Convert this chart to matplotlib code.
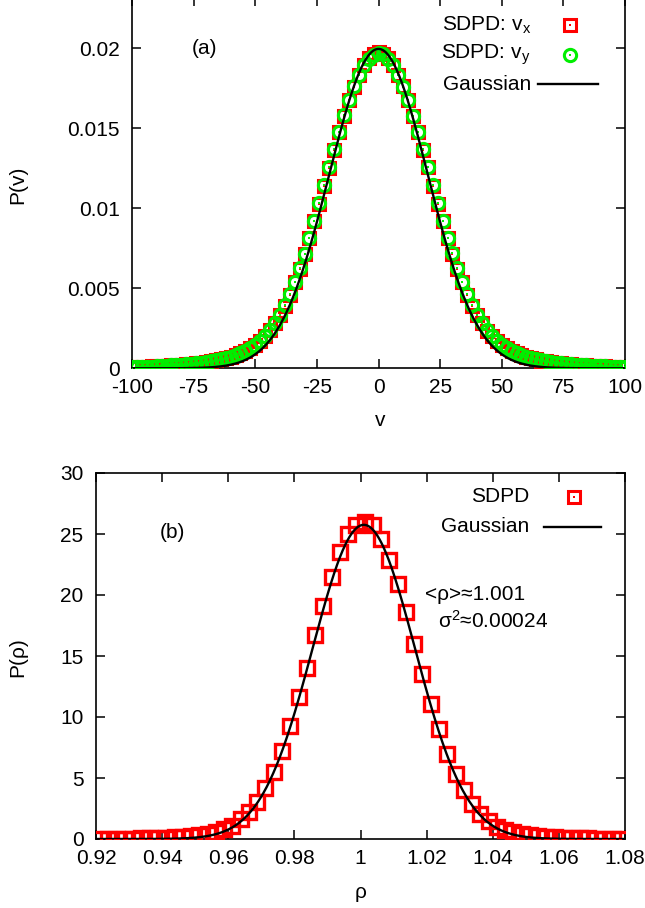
import numpy as np
import matplotlib
matplotlib.use("Agg")
import matplotlib.pyplot as plt

plt.rcParams['font.family'] = ['Liberation Sans', 'DejaVu Sans']
plt.rcParams['mathtext.fontset'] = 'custom'
plt.rcParams['mathtext.rm'] = 'Liberation Sans'
plt.rcParams['mathtext.it'] = 'Liberation Sans'

# ---------------- panel (a) data ----------------
v_start, v_stop, v_step = -100, 100, 2
vx = [0.00007, 0.00008, 0.00009, 0.00010, 0.00012, 0.00013, 0.00014, 0.00016, 0.00018, 0.00020,
      0.00022, 0.00025, 0.00027, 0.00030, 0.00034, 0.00038, 0.00043, 0.00049, 0.00055, 0.00062,
      0.00071, 0.00081, 0.00093, 0.00107, 0.00124, 0.00146, 0.00171, 0.00201, 0.00237, 0.00280,
      0.00331, 0.00391, 0.00459, 0.00536, 0.00621, 0.00713, 0.00812, 0.00917, 0.01027, 0.01139,
      0.01253, 0.01365, 0.01475, 0.01577, 0.01674, 0.01759, 0.01833, 0.01892, 0.01935, 0.01961,
      0.01974,
      0.01962, 0.01936, 0.01893, 0.01834, 0.01760, 0.01675, 0.01578, 0.01476, 0.01366, 0.01254,
      0.01140, 0.01028, 0.00918, 0.00813, 0.00714, 0.00622, 0.00537, 0.00460, 0.00392, 0.00332,
      0.00280, 0.00236, 0.00200, 0.00170, 0.00145, 0.00124, 0.00107, 0.00093, 0.00081, 0.00071,
      0.00062, 0.00055, 0.00048, 0.00043, 0.00038, 0.00034, 0.00030, 0.00027, 0.00024, 0.00022,
      0.00020, 0.00018, 0.00016, 0.00014, 0.00013, 0.00012, 0.00010, 0.00009, 0.00008, 0.00007]
vy = [0.00007, 0.00008, 0.00009, 0.00010, 0.00011, 0.00013, 0.00015, 0.00016, 0.00018, 0.00020,
      0.00023, 0.00025, 0.00028, 0.00031, 0.00034, 0.00039, 0.00044, 0.00049, 0.00056, 0.00063,
      0.00072, 0.00082, 0.00094, 0.00108, 0.00126, 0.00147, 0.00173, 0.00203, 0.00239, 0.00283,
      0.00334, 0.00394, 0.00462, 0.00539, 0.00624, 0.00716, 0.00815, 0.00920, 0.01030, 0.01142,
      0.01256, 0.01368, 0.01477, 0.01579, 0.01675, 0.01760, 0.01833, 0.01891, 0.01933, 0.01959,
      0.01972,
      0.01960, 0.01934, 0.01891, 0.01832, 0.01759, 0.01674, 0.01578, 0.01477, 0.01367, 0.01256,
      0.01142, 0.01030, 0.00921, 0.00816, 0.00717, 0.00624, 0.00539, 0.00462, 0.00394, 0.00334,
      0.00282, 0.00238, 0.00202, 0.00171, 0.00146, 0.00125, 0.00108, 0.00094, 0.00082, 0.00072,
      0.00063, 0.00055, 0.00049, 0.00043, 0.00038, 0.00034, 0.00031, 0.00027, 0.00025, 0.00022,
      0.00020, 0.00018, 0.00016, 0.00015, 0.00013, 0.00012, 0.00010, 0.00009, 0.00008, 0.00007]
v_mean, v_var = 0.0, 400.0
v_ticks = [-100, -75, -50, -25, 0, 25, 50, 75, 100]
v_ticklabels = ['-100', '-75', '-50', '-25', '0', '25', '50', '75', '100']
pv_ticks = [0, 0.005, 0.01, 0.015, 0.02]
pv_ticklabels = ['0', '0.005', '0.01', '0.015', '0.02']

# ---------------- panel (b) data ----------------
rho_first, rho_step = 0.92125, 0.0025
prho = [0.02, 0.02, 0.03, 0.03, 0.04, 0.05, 0.06, 0.08, 0.10, 0.13,
        0.17, 0.23, 0.31, 0.42, 0.56, 0.82, 1.10, 1.60, 2.20, 3.00,
        4.15, 5.50, 7.25, 9.30, 11.6, 14.0, 16.7, 19.1, 21.5, 23.5,
        25.0, 25.7, 26.0,
        25.7, 24.6, 22.9, 20.9, 18.6, 16.0, 13.5, 11.1, 9.00, 7.00,
        5.35, 4.05, 2.90, 2.05, 1.50, 0.98, 0.72, 0.55, 0.40, 0.30,
        0.23, 0.17, 0.13, 0.10, 0.08, 0.06, 0.05, 0.04, 0.03, 0.03, 0.02]
rho_mean, rho_var = 1.001, 0.00024
rho_ticks = [0.92, 0.94, 0.96, 0.98, 1.0, 1.02, 1.04, 1.06, 1.08]
rho_ticklabels = ['0.92', '0.94', '0.96', '0.98', '1', '1.02', '1.04', '1.06', '1.08']
prho_ticks = [0, 5, 10, 15, 20, 25, 30]

RED = '#ff0000'
GREEN = '#00ee00'
FS = 15

def gauss(x, mu, var):
    return np.exp(-(x - mu) ** 2 / (2 * var)) / np.sqrt(2 * np.pi * var)

fig = plt.figure(figsize=(6.45, 9.08), dpi=100)
W, H = 645.0, 908.0

def add_ax(l, r, t, b):
    return fig.add_axes([l / W, 1 - b / H, (r - l) / W, (b - t) / H])

def style(ax):
    for s in ax.spines.values():
        s.set_linewidth(1.2)
    ax.tick_params(direction='in', length=6.5, width=1.1, top=True, right=True,
                   labelsize=FS)
    ax.tick_params(axis='x', pad=7)
    ax.tick_params(axis='y', pad=9)

def fx(ax_l, ax_r, x):
    return (x - ax_l) / (ax_r - ax_l)

def fy(ax_t, ax_b, y):
    return (ax_b - y) / (ax_b - ax_t)

SQ_MS, SQ_MEW = 8.4, 2.2
CI_MS, CI_MEW = 8.8, 2.2
SQ2_MS, SQ2_MEW = 9.8, 2.4
DOT = 1.8

# ---- top panel ----
L1, R1, T1, B1 = 132, 625, -2.7, 368.3
ax1 = add_ax(L1, R1, T1, B1)
v = np.arange(v_start, v_stop + v_step, v_step)
ax1.plot(v, vx, ls='none', marker='s', ms=SQ_MS, mfc='none', mec=RED, mew=SQ_MEW, zorder=3)
ax1.plot(v, vx, ls='none', marker='s', ms=DOT, mfc=RED, mec=RED, mew=0, zorder=3)
ax1.plot(v, vy, ls='none', marker='o', ms=CI_MS, mfc='none', mec=GREEN, mew=CI_MEW, zorder=4)
ax1.plot(v, vy, ls='none', marker='s', ms=DOT, mfc=GREEN, mec=GREEN, mew=0, zorder=4)
vv = np.linspace(-100, 100, 801)
ax1.plot(vv, gauss(vv, v_mean, v_var), color='black', lw=1.7, zorder=5)
ax1.set_xlim(-100, 100)
ax1.set_ylim(0, 0.02 + (48 + 2.7) / 80 * 0.005)
ax1.set_xticks(v_ticks)
ax1.set_xticklabels(v_ticklabels)
ax1.set_yticks(pv_ticks)
ax1.set_yticklabels(pv_ticklabels)
style(ax1)

t1 = ax1.transAxes
ax1.text(fx(L1, R1, 531), fy(T1, B1, 25), 'SDPD: v$_\\mathregular{x}$', transform=t1,
         ha='right', va='center', fontsize=FS)
ax1.text(fx(L1, R1, 531), fy(T1, B1, 55), 'SDPD: v$_\\mathregular{y}$', transform=t1,
         ha='right', va='center', fontsize=FS)
ax1.text(fx(L1, R1, 531), fy(T1, B1, 85), 'Gaussian', transform=t1,
         ha='right', va='center', fontsize=FS)
ax1.plot([fx(L1, R1, 570)], [fy(T1, B1, 25)], transform=t1, marker='s', ms=SQ_MS,
         mfc='none', mec=RED, mew=SQ_MEW, clip_on=False)
ax1.plot([fx(L1, R1, 570)], [fy(T1, B1, 25)], transform=t1, marker='s', ms=DOT,
         mfc=RED, mec=RED, mew=0, clip_on=False)
ax1.plot([fx(L1, R1, 570)], [fy(T1, B1, 55)], transform=t1, marker='o', ms=CI_MS,
         mfc='none', mec=GREEN, mew=CI_MEW, clip_on=False)
ax1.plot([fx(L1, R1, 570)], [fy(T1, B1, 55)], transform=t1, marker='s', ms=DOT,
         mfc=GREEN, mec=GREEN, mew=0, clip_on=False)
ax1.plot([fx(L1, R1, 538), fx(L1, R1, 598)], [fy(T1, B1, 84)] * 2, transform=t1,
         color='black', lw=1.7)
ax1.text(fx(L1, R1, 192), fy(T1, B1, 48), '(a)', transform=t1, ha='left', va='center',
         fontsize=FS)

fig.text(18 / W, 1 - 185 / H, 'P(v)', rotation=90, ha='center', va='center', fontsize=FS)
fig.text(380 / W, 1 - 421 / H, 'v', ha='center', va='center', fontsize=FS)

# ---- bottom panel ----
L2, R2, T2, B2 = 96, 625, 473, 839
ax2 = add_ax(L2, R2, T2, B2)
rho = rho_first + rho_step * np.arange(len(prho))
ax2.plot(rho, prho, ls='none', marker='s', ms=SQ2_MS, mfc='none', mec=RED, mew=SQ2_MEW, zorder=3)
rr = np.linspace(0.92, 1.08, 801)
ax2.plot(rr, gauss(rr, rho_mean, rho_var), color='black', lw=1.7, zorder=5)
ax2.set_xlim(0.92, 1.08)
ax2.set_ylim(0, 30)
ax2.set_xticks(rho_ticks)
ax2.set_xticklabels(rho_ticklabels)
ax2.set_yticks(prho_ticks)
style(ax2)

t2 = ax2.transAxes
ax2.text(fx(L2, R2, 529), fy(T2, B2, 496), 'SDPD', transform=t2, ha='right', va='center',
         fontsize=FS)
ax2.text(fx(L2, R2, 529), fy(T2, B2, 527), 'Gaussian', transform=t2, ha='right', va='center',
         fontsize=FS)
ax2.plot([fx(L2, R2, 574)], [fy(T2, B2, 497)], transform=t2, marker='s', ms=SQ_MS,
         mfc='none', mec=RED, mew=SQ_MEW, clip_on=False)
ax2.plot([fx(L2, R2, 574)], [fy(T2, B2, 497)], transform=t2, marker='s', ms=DOT,
         mfc=RED, mec=RED, mew=0, clip_on=False)
ax2.plot([fx(L2, R2, 544), fx(L2, R2, 601)], [fy(T2, B2, 527)] * 2, transform=t2,
         color='black', lw=1.7)
ax2.text(fx(L2, R2, 160), fy(T2, B2, 533), '(b)', transform=t2, ha='left', va='center',
         fontsize=FS)
ax2.text(fx(L2, R2, 425), fy(T2, B2, 594), '<ρ>≈1.001', transform=t2, ha='left', va='center',
         fontsize=FS)
ax2.text(fx(L2, R2, 438), fy(T2, B2, 621), 'σ$^\\mathregular{2}$≈0.00024', transform=t2,
         ha='left', va='center', fontsize=FS)

fig.text(18 / W, 1 - 657 / H, 'P(ρ)', rotation=90, ha='center', va='center', fontsize=FS)
fig.text(361 / W, 1 - 892 / H, 'ρ', ha='center', va='center', fontsize=FS)

fig.savefig('out.png', dpi=100)
